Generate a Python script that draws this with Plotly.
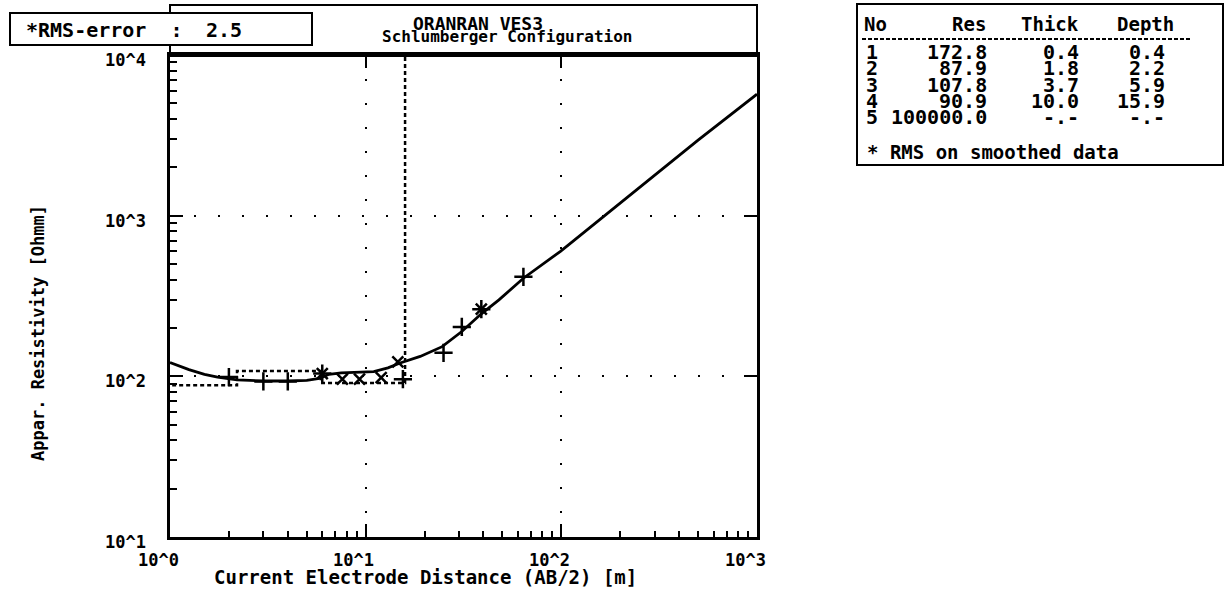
import math
import plotly.graph_objects as go

# ---------------- data ----------------
curve_ab2 = [1.0, 1.25, 1.5, 1.75, 2.2, 3.0, 4.0, 5.0, 5.8, 6.5, 7.5, 9.0, 11.0, 13.0,
             15.0, 19.0, 24.6, 31.0, 39.0, 48.0, 64.0, 99.0, 156.0, 300.0, 500.0, 1000.0]
curve_rho = [122, 110, 103, 99, 95, 93.5, 93.5, 94.5, 97, 103, 105, 105.5, 107, 113,
             121, 133, 153, 190, 245, 299, 408, 600, 940, 1800, 2950, 5700]

plus_ab2 = [2.0, 3.0, 4.0, 6.0, 15.5, 25.0, 31.0, 39.0, 64.0]
plus_rho = [99, 93, 93, 104, 96, 140, 203, 262, 416]
cross_ab2 = [6.0, 7.6, 9.3, 12.0, 14.6, 39.0]
cross_rho = [104, 96, 96, 98, 123, 262]

layer_no = ["1", "2", "3", "4", "5"]
layer_res = [172.8, 87.9, 107.8, 90.9, 100000.0]
layer_thick = [0.4, 1.8, 3.7, 10.0, None]
layer_depth = [0.4, 2.2, 5.9, 15.9, None]

rms_error = 2.5
title_lines = ["ORANRAN VES3", "Schlumberger Configuration"]
x_tick_vals = [1, 10, 100, 1000]
x_tick_text = ["10^0", "10^1", "10^2", "10^3"]
y_tick_vals = [10, 100, 1000, 10000]
y_tick_text = ["10^1", "10^2", "10^3", "10^4"]
x_title = "Current Electrode Distance (AB/2) [m]"
y_title = "Appar. Resistivity [Ohmm]"
table_header = ["No", "Res", "Thick", "Depth"]
table_note = "* RMS on smoothed data"

# ---------------- layout geometry (pixels) ----------------
W, H = 1228, 589
L, R, T, B = 170, 757, 55, 537
FONT = "DejaVu Sans Mono"


def PX(x):
    return (x - L) / (R - L)


def PY(y):
    return (B - y) / (B - T)


# step model built from the layer table
step_x = [0.1]
step_y = [layer_res[0]]
for i, d in enumerate(layer_depth):
    if d is None:
        break
    step_x += [d, d]
    step_y += [layer_res[i], layer_res[i + 1]]

minor_x = [m * 10 ** e for e in range(0, 3) for m in range(2, 10)]
minor_y = [m * 10 ** e for e in range(1, 4) for m in range(2, 10)]

fig = go.Figure()
fig.add_trace(go.Scatter(x=step_x, y=step_y, mode="lines",
                         line=dict(color="black", width=2.5, dash="4px,3px")))
fig.add_trace(go.Scatter(x=curve_ab2, y=curve_rho, mode="lines",
                         line=dict(color="black", width=2.8)))
fig.add_trace(go.Scatter(x=plus_ab2, y=plus_rho, mode="markers",
                         marker=dict(symbol="cross-thin", size=13,
                                     line=dict(color="black", width=2.5))))
fig.add_trace(go.Scatter(x=cross_ab2, y=cross_rho, mode="markers",
                         marker=dict(symbol="x-thin", size=11,
                                     line=dict(color="black", width=2.5))))
# invisible trace for mirrored axes
fig.add_trace(go.Scatter(x=[10], y=[100], xaxis="x2", yaxis="y2", mode="markers",
                         marker=dict(opacity=0), hoverinfo="skip"))

axis_common = dict(type="log", showline=True, linewidth=2.5, linecolor="black",
                   ticks="inside", ticklen=13, tickwidth=2, tickcolor="black",
                   showticklabels=False, zeroline=False)

fig.update_layout(
    width=W, height=H,
    margin=dict(l=L, r=W - R, t=T, b=H - B),
    paper_bgcolor="white", plot_bgcolor="white",
    showlegend=False,
    xaxis=dict(range=[0, 3], tickvals=x_tick_vals, showgrid=True, gridcolor="black",
               gridwidth=2, griddash="2px,22px",
               minor=dict(ticks="inside", ticklen=6, tickwidth=1.5, tickcolor="black",
                          tickvals=minor_x, showgrid=False),
               **axis_common),
    yaxis=dict(range=[1, 4], tickvals=y_tick_vals, showgrid=True, gridcolor="black",
               gridwidth=2, griddash="2px,22px",
               minor=dict(ticks="inside", ticklen=7, tickwidth=1.5, tickcolor="black",
                          tickvals=minor_y, showgrid=False),
               **axis_common),
    xaxis2=dict(range=[0, 3], overlaying="x", side="top", tickvals=[10, 100],
                showgrid=False, **axis_common),
    yaxis2=dict(range=[1, 4], overlaying="y", side="right", tickvals=[100, 1000],
                showgrid=False, **axis_common),
)

shapes = []
# title box
shapes.append(dict(type="rect", xref="paper", yref="paper", x0=PX(L), x1=PX(R),
                   y0=PY(T), y1=PY(5), line=dict(color="black", width=2)))
shapes.append(dict(type="line", xref="paper", yref="paper", x0=PX(L), x1=PX(R),
                   y0=PY(55), y1=PY(55), line=dict(color="black", width=4)))
# RMS box
shapes.append(dict(type="rect", xref="paper", yref="paper", x0=PX(10), x1=PX(312),
                   y0=PY(45), y1=PY(13), fillcolor="white",
                   line=dict(color="black", width=2), layer="above"))
# table box
shapes.append(dict(type="rect", xref="paper", yref="paper", x0=PX(857), x1=PX(1223),
                   y0=PY(165), y1=PY(4), line=dict(color="black", width=2)))
shapes.append(dict(type="line", xref="paper", yref="paper", x0=PX(862), x1=PX(1190),
                   y0=PY(39), y1=PY(39), line=dict(color="black", width=2, dash="4px,2px")))
fig.update_layout(shapes=shapes)

ann = []


def text(x, y, s, size, xanchor="center", angle=0):
    ann.append(dict(xref="paper", yref="paper", x=PX(x), y=PY(y), text="<b>" + s + "</b>",
                    showarrow=False, xanchor=xanchor, yanchor="middle", textangle=angle,
                    borderpad=0,
                    font=dict(family=FONT, size=size, color="black")))


# tick labels
for v, t in zip(x_tick_vals, x_tick_text):
    ann.append(dict(xref="x", yref="paper", x=math.log10(v), y=0, text="<b>" + t + "</b>",
                    showarrow=False, xanchor="center", yanchor="middle", xshift=-12,
                    yshift=-(560 - B), borderpad=0,
                    font=dict(family=FONT, size=17, color="black")))
for v, t in zip(y_tick_vals, y_tick_text):
    ann.append(dict(xref="paper", yref="y", x=PX(147), y=math.log10(v), text="<b>" + t + "</b>",
                    showarrow=False, xanchor="right", yanchor="middle", yshift=-5,
                    borderpad=0,
                    font=dict(family=FONT, size=17, color="black")))

# axis titles
text(425, 577, x_title, 19)
text(38, 333, y_title, 17, angle=-90)

# titles
text(478, 23, title_lines[0], 18)
text(507, 37, title_lines[1], 16)
text(25, 30, "*RMS-error  :", 20, xanchor="left")
text(224, 30, f"{rms_error:.1f}", 20)

# table
text(863, 24, table_header[0], 19, xanchor="left")
text(987, 24, table_header[1], 19, xanchor="right")
text(1080, 24, table_header[2], 19, xanchor="right")
text(1175, 24, table_header[3], 19, xanchor="right")
for i in range(len(layer_no)):
    y = 52 + i * 16.3
    text(865, y, layer_no[i], 20, xanchor="left")
    text(988, y, f"{layer_res[i]:.1f}", 20, xanchor="right")
    th = "-.-" if layer_thick[i] is None else f"{layer_thick[i]:.1f}"
    dp = "-.-" if layer_depth[i] is None else f"{layer_depth[i]:.1f}"
    text(1080, y, th, 20, xanchor="right")
    text(1166, y, dp, 20, xanchor="right")
text(866, 152, table_note, 19, xanchor="left")

fig.update_layout(annotations=ann)
fig.write_html("out.html")
